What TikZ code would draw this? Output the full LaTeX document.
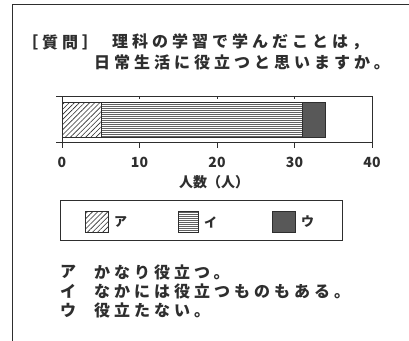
\documentclass[tikz,border=0pt]{standalone}
\usepackage{fontspec}
\newfontfamily\jp{Noto Sans CJK JP}[LetterSpace=25]
\newfontfamily\jpn{Noto Sans CJK JP}
\usetikzlibrary{patterns.meta}
\definecolor{ink}{gray}{0.18}
\tikzset{
  frameline/.style={draw=ink, line width=1pt},
  axisline/.style={draw=ink, line width=0.9pt},
  segA/.style={draw=ink, line width=0.8pt, pattern={Lines[angle=45,distance=3.6pt,line width=0.6pt]}, pattern color=ink},
  segB/.style={draw=ink, line width=0.8pt, pattern={Lines[angle=0,distance=2pt,line width=0.6pt]}, pattern color=ink!75},
  segC/.style={draw=ink, line width=0.8pt, fill=ink!80},
  big/.style={font=\jp\bfseries\fontsize{16}{16}\selectfont, text=ink, inner sep=0pt, anchor=west},
  tick/.style={font=\jpn\bfseries\fontsize{14}{14}\selectfont, text=ink, inner sep=0pt},
  leg/.style={font=\jpn\bfseries\fontsize{13}{13}\selectfont, text=ink, inner sep=0pt, anchor=west},
}
\begin{document}
\begin{tikzpicture}[x=1pt,y=-1pt]
\useasboundingbox (0,0) rectangle (409,340);
\fill[white] (0,0) rectangle (409,340);
% outer frame (only top and left visible)
\coordinate (ftl) at (12,4);
\coordinate (ftr) at (412,4);
\coordinate (fbl) at (12,344);
\draw[frameline] (ftr) -- (ftl) -- (fbl);
% title
\node[big] (q) at (22,42) {［質問］};
\node[big] (t1) at (112,42) {理科の学習で学んだことは，};
\node[big] (t2) at (94,62) {日常生活に役立つと思いますか。};
% chart box
\coordinate (bl) at (62,142);
\coordinate (br) at (372,142);
\coordinate (tl) at (62,96);
\coordinate (tr) at (372,96);
\draw[axisline] (56,96) -- (tr) -- (br) -- (56,142);
\draw[axisline] (tl) -- (bl);
\foreach \v in {0,10,20,30,40} {
  \draw[axisline] ({62+7.75*\v},142) -- ({62+7.75*\v},148);
  \node[tick] at ({62+7.75*\v},162) {\v};
}
\foreach \v in {10,20,30} {
  \draw[axisline] ({62+7.75*\v},96) -- ({62+7.75*\v},99);
}
% bars
\draw[segA] (62,102) rectangle (101,137);
\draw[segB] (101,102) rectangle (302,137);
\draw[segC] (302,102) rectangle (325.5,137);
\node[tick] (xl) at (214,182) {人数（人）};
% legend
\draw[axisline] (60,200) rectangle (342,240);
\draw[segA] (85,211) rectangle (108,232);
\node[leg] (la) at (114,222) {ア};
\draw[segB] (178,211) rectangle (198,232);
\node[leg] (lb) at (204,222) {イ};
\draw[segC] (272,211) rectangle (295,232);
\node[leg] (lc) at (301,222) {ウ};
% definitions
\node[big] (da) at (60,272) {ア};
\node[big] (db) at (60,291) {イ};
\node[big] (dc) at (60,310) {ウ};
\node[big] (ea) at (94,272) {かなり役立つ。};
\node[big] (eb) at (94,291) {なかには役立つものもある。};
\node[big] (ec) at (94,310) {役立たない。};
\end{tikzpicture}
\end{document}
